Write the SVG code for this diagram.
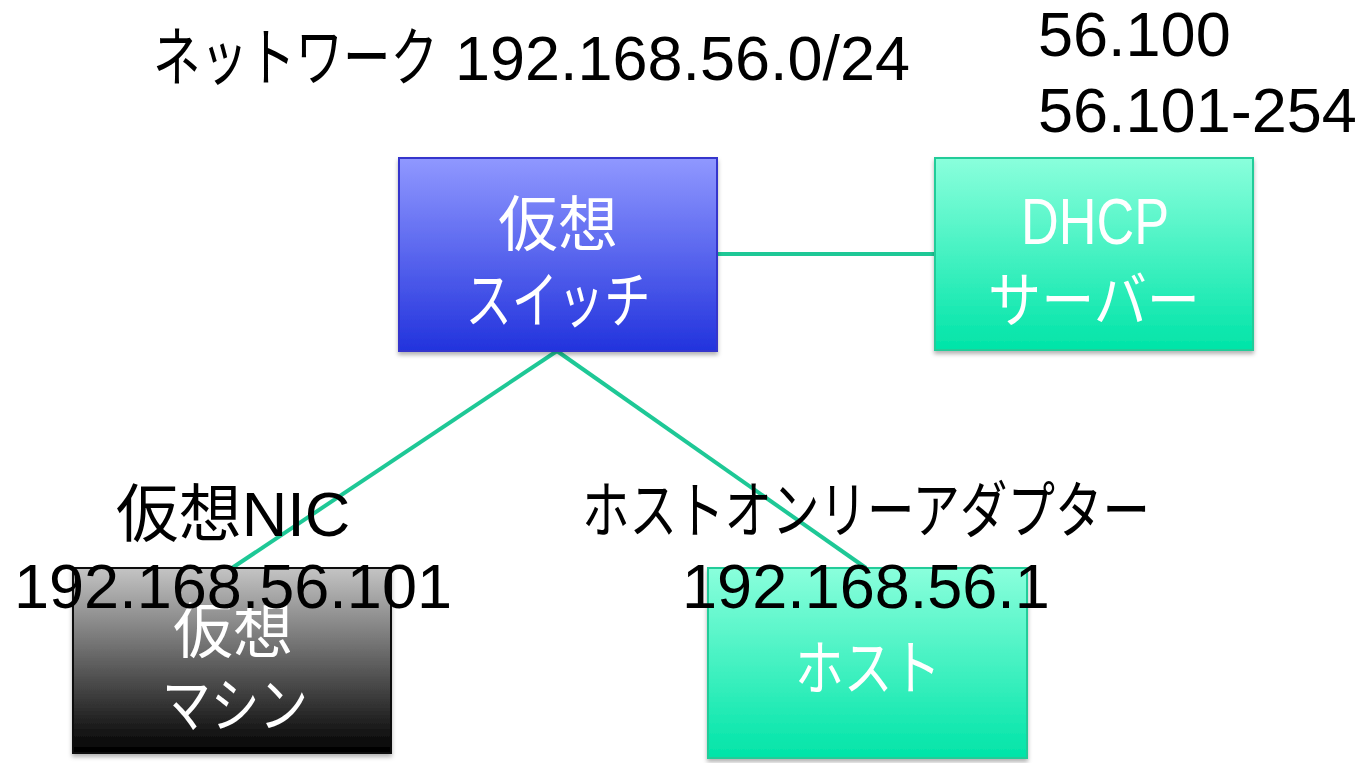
<svg xmlns="http://www.w3.org/2000/svg" width="1364" height="763" viewBox="0 0 1364 763">
<style>
text{font-family:"Liberation Sans","Noto Sans CJK JP",sans-serif;}
.lbl{font-size:63px;fill:#000;}
.in{font-size:60px;fill:#fff;text-anchor:middle;font-family:"Noto Sans CJK JP","Liberation Sans",sans-serif;}
.conn{stroke:#1ec896;stroke-width:4;fill:none;}
</style>
<defs>
<linearGradient id="gBlue" x1="0" y1="0" x2="0" y2="1"><stop offset="0" stop-color="#9098ff"/><stop offset="1" stop-color="#2233dd"/></linearGradient>
<linearGradient id="gGreen" x1="0" y1="0" x2="0" y2="1"><stop offset="0" stop-color="#8affdc"/><stop offset="1" stop-color="#00e4a8"/></linearGradient>
<linearGradient id="gGray" x1="0" y1="0" x2="0" y2="1"><stop offset="0" stop-color="#c4c4c4"/><stop offset="1" stop-color="#000"/></linearGradient>
<filter id="sh" x="-10%" y="-10%" width="120%" height="120%"><feDropShadow dx="0" dy="3" stdDeviation="2" flood-color="#000" flood-opacity="0.3"/></filter>
</defs>
<g id="connectors">
<line class="conn" x1="717" y1="254" x2="935" y2="254"/>
<line class="conn" x1="557" y1="351" x2="232" y2="568"/>
<line class="conn" x1="557" y1="351" x2="866" y2="568"/>
</g>
<g id="switch">
<rect x="399" y="158" width="318" height="193" fill="url(#gBlue)" stroke="#3535cc" stroke-width="2" filter="url(#sh)"/>
<text class="in" x="558" y="246">仮想</text>
<text class="in" x="558" y="323" textLength="185" lengthAdjust="spacingAndGlyphs" style="font-size:62px">スイッチ</text>
</g>
<g id="dhcp">
<rect x="935" y="158" width="318" height="192" fill="url(#gGreen)" stroke="#22cc99" stroke-width="2" filter="url(#sh)"/>
<text class="in" x="1095" y="244" textLength="148" lengthAdjust="spacingAndGlyphs" style="font-family:'Liberation Sans',sans-serif;font-size:64px">DHCP</text>
<text class="in" x="1094" y="322" textLength="212" lengthAdjust="spacingAndGlyphs">サーバー</text>
</g>
<g id="vm">
<rect x="73" y="568" width="318" height="185" fill="url(#gGray)" stroke="#111" stroke-width="2" filter="url(#sh)"/>
<text class="in" x="233" y="653">仮想</text>
<text class="in" x="235" y="727" textLength="146" lengthAdjust="spacingAndGlyphs">マシン</text>
</g>
<g id="host">
<rect x="708" y="568" width="319" height="190" fill="url(#gGreen)" stroke="#22cc99" stroke-width="2" filter="url(#sh)"/>
<text class="in" x="868" y="690" textLength="146" lengthAdjust="spacingAndGlyphs">ホスト</text>
</g>
<g id="labels">
<text class="lbl" y="80"><tspan x="153" textLength="285" lengthAdjust="spacingAndGlyphs" style="font-size:64px">ネットワーク</tspan><tspan x="455" textLength="455" lengthAdjust="spacingAndGlyphs">192.168.56.0/24</tspan></text>
<text class="lbl" x="1038" y="56">56.100</text>
<text class="lbl" x="1038" y="132">56.101-254</text>
<text class="lbl" x="233" y="536" text-anchor="middle">仮想NIC</text>
<text class="lbl" x="233" y="608" text-anchor="middle">192.168.56.101</text>
<text class="lbl" x="866" y="533" text-anchor="middle" textLength="568" lengthAdjust="spacingAndGlyphs" style="font-size:62px">ホストオンリーアダプター</text>
<text class="lbl" x="866" y="608" text-anchor="middle">192.168.56.1</text>
</g>
</svg>
